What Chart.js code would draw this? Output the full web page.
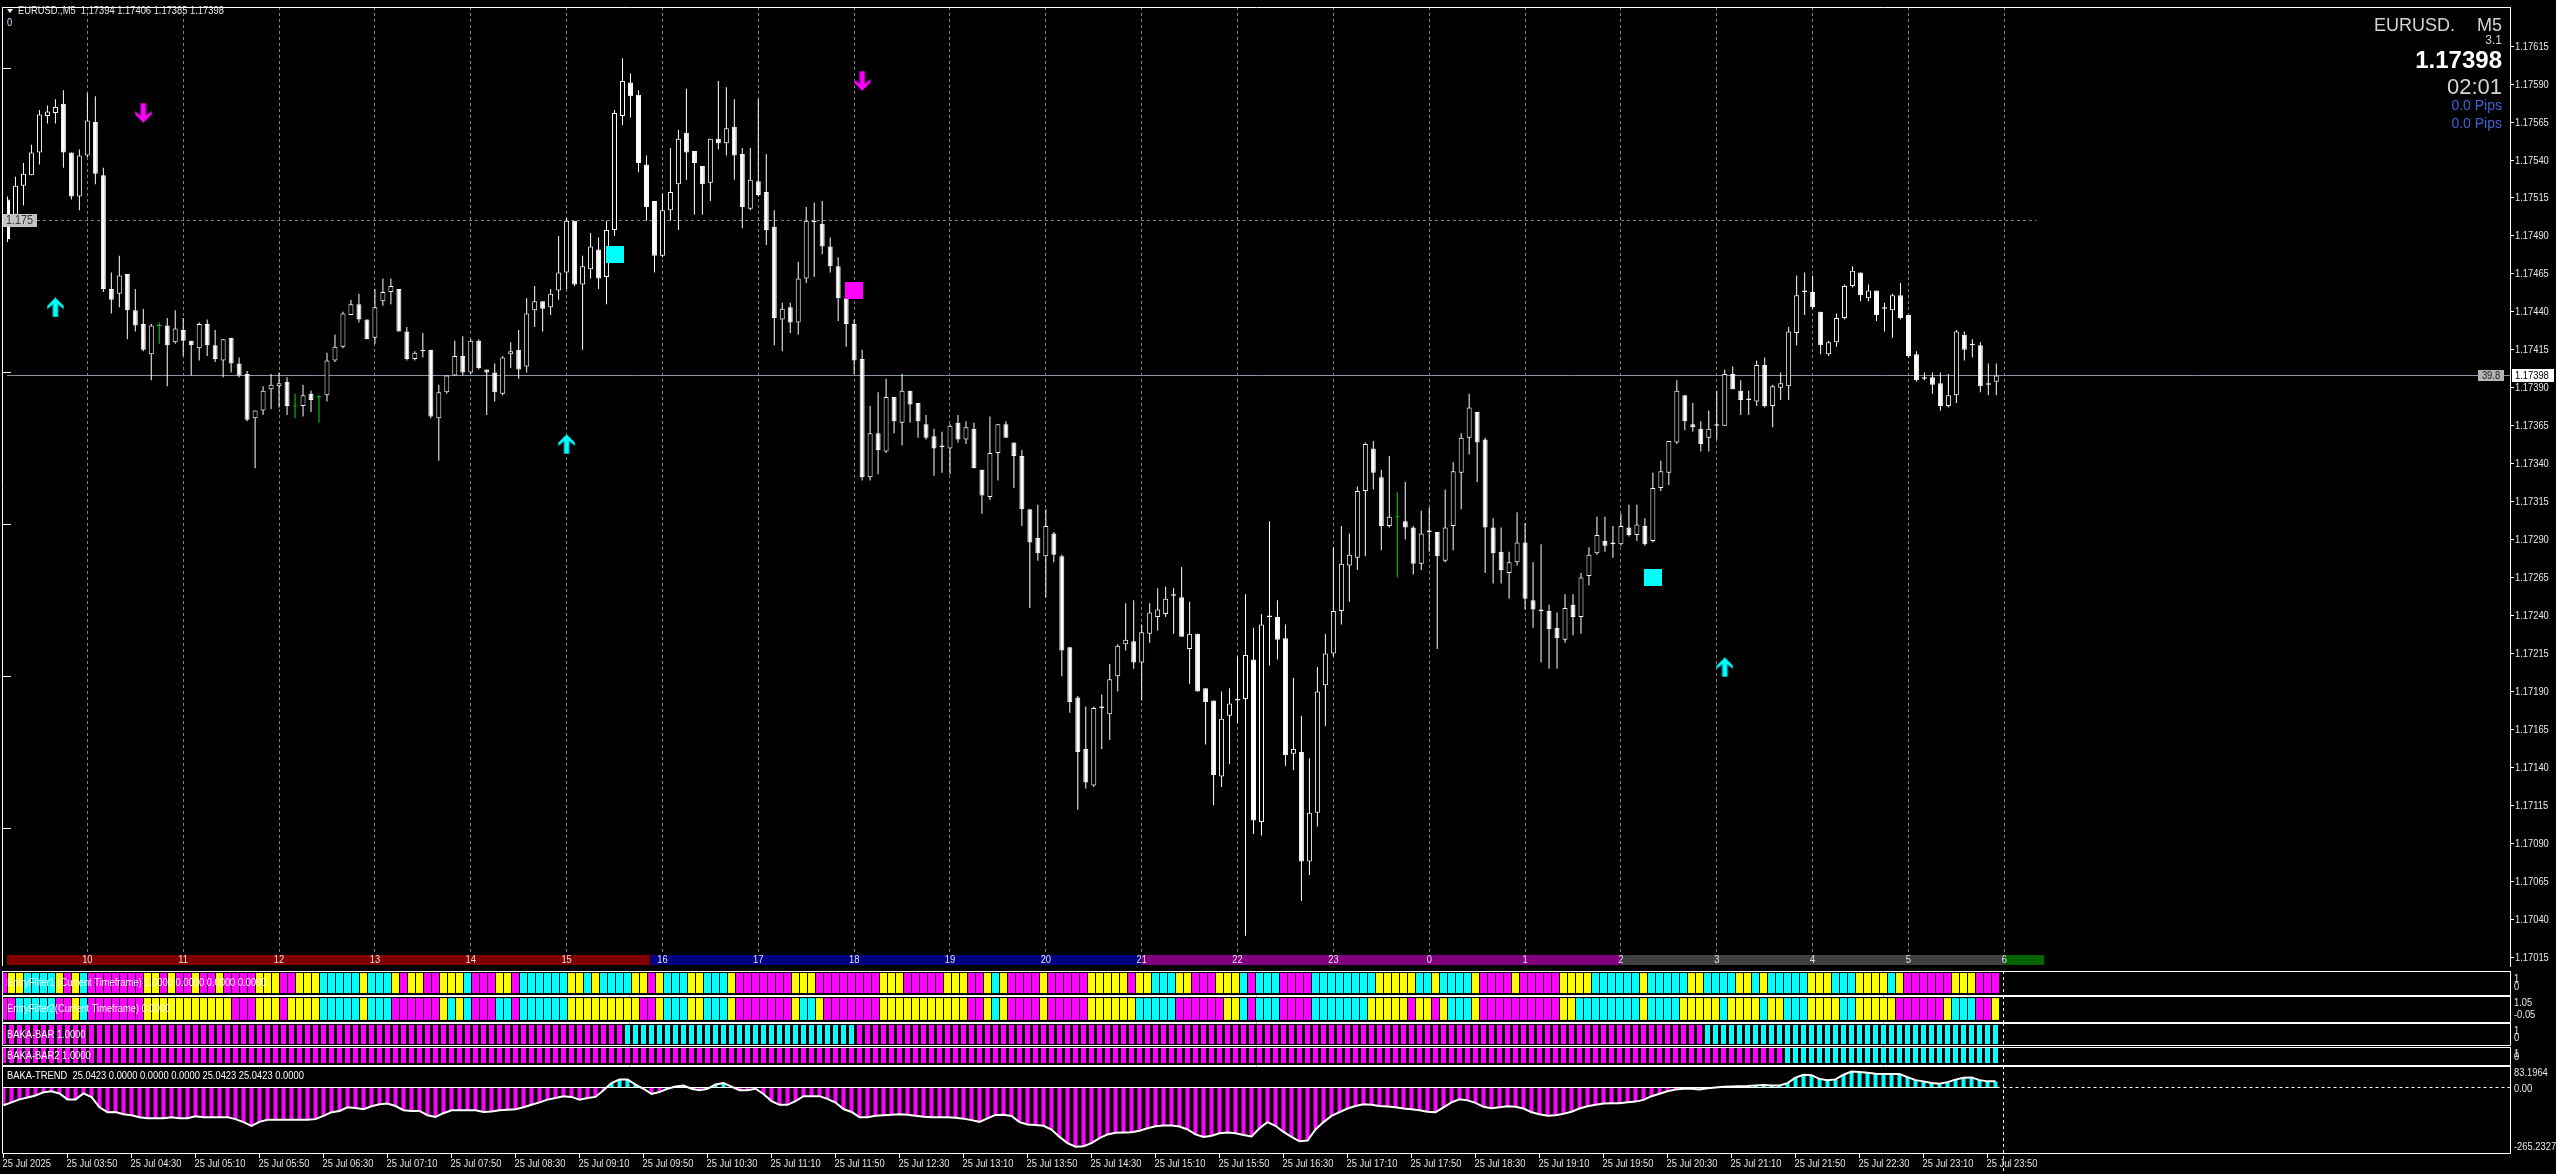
<!DOCTYPE html>
<html>
<head>
<meta charset="utf-8">
<title>EURUSD.,M5</title>
<script src="https://cdn.jsdelivr.net/npm/chart.js@4.4.1/dist/chart.umd.min.js"></script>
<style>
  html, body { margin: 0; padding: 0; background: #000; overflow: hidden; }
  #wrap { position: relative; width: 2556px; height: 1174px; background: #000; }
  #wrap canvas { position: absolute; left: 0; }
</style>
</head>
<body>
<div id="wrap"></div>
<script>
// ===== DATA =====
const SYMBOL = 'EURUSD.';
const PERIOD = 'M5';
const BASE = 1.17; // candle values below are points above 1.17000

const opens = [514,504,523,530,545,569,571,577,545,516,543,565,530,455,452,465,441,432,412,431,
  431,420,428,421,416,432,418,408,423,406,399,370,375,389,391,394,378,378,386,384,
  385,408,417,438,445,435,423,447,453,455,427,409,414,415,370,387,398,411,400,421,
  402,400,386,412,415,404,441,447,443,454,466,500,458,468,481,463,494,569,591,583,
  537,513,477,507,524,558,546,536,525,554,551,562,544,508,526,519,496,435,443,433,
  462,499,498,483,470,449,432,409,331,360,348,384,367,388,380,366,358,352,350,367,
  356,363,336,318,347,366,354,345,310,291,279,294,279,219,186,152,128,179,175,200,
  221,223,209,228,239,241,254,252,218,228,192,184,134,174,184,185,211,104,239,239,
  225,149,150,78,110,194,215,243,273,278,322,350,331,299,305,302,298,274,295,295,
  276,299,334,357,374,356,298,282,268,275,288,250,243,243,232,224,247,239,266,281,
  289,287,287,298,293,299,289,324,334,354,385,366,363,357,365,365,399,388,382,381,
  405,378,390,391,426,453,453,440,412,420,436,457,466,449,454,443,441,451,438,412,
  396,397,393,378,385,425,419,418,392,394];
const highs = [516,529,538,550,573,576,580,586,545,547,584,582,535,466,477,465,455,442,432,433,
  436,441,436,421,433,435,428,422,423,410,401,375,391,399,400,397,386,392,388,385,
  413,425,440,448,452,435,455,462,462,455,430,414,426,415,392,398,421,424,422,422,
  402,406,411,420,428,449,457,447,455,490,502,500,477,492,489,500,573,607,597,586,
  543,513,518,548,560,587,546,536,554,592,588,580,548,548,580,544,507,446,446,473,
  509,512,513,489,476,449,435,415,378,387,396,384,399,388,380,372,363,361,366,372,
  368,367,336,371,366,368,354,349,310,313,310,295,280,219,187,180,180,188,208,221,
  248,250,234,248,258,259,258,272,249,228,192,184,190,192,213,254,232,241,302,250,
  234,199,174,146,206,228,285,299,294,325,354,355,336,345,321,328,299,309,311,295,
  323,341,360,386,374,357,304,298,282,308,301,275,287,247,242,254,254,268,285,305,
  305,299,307,313,313,304,334,342,355,395,385,380,368,375,388,402,404,395,388,408,
  410,392,400,430,464,466,464,440,421,439,458,470,466,458,454,446,452,459,438,414,
  400,400,400,399,428,427,422,420,406,406];
const lows = [486,498,510,530,537,564,564,535,514,507,542,524,453,439,443,422,427,414,395,419,
  391,419,411,398,408,411,407,397,400,397,368,337,372,376,377,372,370,371,374,367,
  381,407,416,438,433,422,419,444,445,427,408,408,410,370,342,386,398,398,399,402,
  372,381,385,403,396,400,430,427,438,448,455,457,415,462,455,445,490,563,568,532,
  500,466,476,500,494,527,504,504,513,547,543,527,495,507,516,484,418,414,426,425,
  459,463,478,466,434,417,399,329,329,333,347,360,352,367,357,356,332,334,333,354,
  353,337,307,316,329,357,324,299,245,276,252,275,200,176,112,126,127,152,158,190,
  217,205,184,222,230,239,228,226,195,190,155,115,127,142,169,29,96,95,207,211,
  141,138,52,69,101,167,213,234,249,270,279,323,283,298,265,290,267,270,282,218,
  275,283,310,346,328,268,261,261,251,273,244,232,209,205,205,222,227,228,260,280,
  282,278,286,292,289,286,288,322,326,353,362,361,348,348,356,365,389,372,372,378,
  377,364,382,382,418,438,442,412,411,417,435,456,447,447,434,427,423,435,410,394,
  395,386,375,377,380,408,410,387,385,385];
const closes = [488,523,531,545,570,572,575,545,516,543,566,531,455,448,464,441,431,415,431,431,
  418,429,421,418,432,418,409,422,406,398,369,375,388,392,393,378,378,385,382,384,
  408,417,439,445,435,422,443,453,457,427,409,413,415,371,387,398,411,400,421,403,
  400,387,410,414,402,439,447,442,452,466,500,458,470,483,462,494,571,592,582,538,
  509,477,507,519,554,545,538,524,554,551,561,543,509,527,517,494,436,442,433,462,
  500,500,483,470,449,432,408,331,360,349,384,368,388,379,368,357,350,351,365,356,
  364,337,319,347,366,357,345,310,288,281,299,280,217,183,150,130,179,180,198,220,
  224,209,229,242,244,251,253,226,228,190,183,135,172,182,185,214,105,234,240,224,
  148,152,78,110,190,215,243,274,280,322,353,334,299,305,305,298,274,294,296,279,
  298,335,357,377,354,298,281,270,275,288,251,244,244,231,225,245,239,265,280,293,
  286,288,299,293,300,287,324,335,355,388,368,364,353,363,366,399,389,382,383,405,
  378,391,393,427,451,454,443,418,420,436,457,467,451,454,438,442,451,436,411,395,
  397,392,378,385,427,415,418,391,393,398];

const priceTicks = [1.17015,1.17040,1.17065,1.17090,1.17115,1.17140,1.17165,1.17190,1.17215,1.17240,
  1.17265,1.17290,1.17315,1.17340,1.17365,1.17390,1.17415,1.17440,1.17465,1.17490,
  1.17515,1.17540,1.17565,1.17590,1.17615];
const leftTicks = [1.176, 1.175, 1.174, 1.173, 1.172, 1.171];
const levelPrice = 1.175;
const levelEndBar = 254;

const timeLabelBars = [0,8,16,24,32,40,48,56,64,72,80,88,96,104,112,120,128,136,144,152,160,168,176,184,192,200,208,216,224,232,240,248];
const timeLabels = ['25 Jul 2025','25 Jul 03:50','25 Jul 04:30','25 Jul 05:10','25 Jul 05:50','25 Jul 06:30','25 Jul 07:10','25 Jul 07:50',
  '25 Jul 08:30','25 Jul 09:10','25 Jul 09:50','25 Jul 10:30','25 Jul 11:10','25 Jul 11:50','25 Jul 12:30','25 Jul 13:10',
  '25 Jul 13:50','25 Jul 14:30','25 Jul 15:10','25 Jul 15:50','25 Jul 16:30','25 Jul 17:10','25 Jul 17:50','25 Jul 18:30',
  '25 Jul 19:10','25 Jul 19:50','25 Jul 20:30','25 Jul 21:10','25 Jul 21:50','25 Jul 22:30','25 Jul 23:10','25 Jul 23:50'];

const hourBars = [10,22,34,46,58,70,82,94,106,118,130,142,154,166,178,190,202,214,226,238,250];
const hourLabels = ['10','11','12','13','14','15','16','17','18','19','20','21','22','23','0','1','2','3','4','5','6'];
const sessionStarts = [-1, 80.5, 142, 202, 250];
const sessionEnds = [80.5, 142, 202, 250, 255];
const sessionColors = ['#800000', '#000080', '#800080', '#404040', '#006400'];

const upArrowBars = [6, 70, 215];
const upArrowPts = [443, 353, 206];
const downArrowBars = [17, 107];
const downArrowPts = [571, 592];
const cyanBoxBars = [76, 206];
const cyanBoxPts = [478, 265];
const magentaBoxBars = [106];
const magentaBoxPts = [454];

// indicator colours, run-length: m = magenta, c = cyan, y = yellow
const ef1Runs = 'm1 y2 c4 y1 m1 y1 c1 m7 y2 m1 y1 m2 y1 m2 y1 m4 y3 m2 y3 c5 y1 c3 y1 m1 y2 m2 y3 c1 m3 y2 m1 c6 y2 c1 y1 c4 y2 m1 y1 c3 y2 c3 y1 m7 y3 m8 y3 m5 y3 m2 y1 c1 y1 m4 y1 m5 y5 m1 y2 c3 y2 m3 y3 c1 m1 c3 m4 c8 y5 c2 y1 c4 y1 m4 y1 m5 y4 c6 y1 c5 y2 c4 y2 c1 y1 c5 y3 c3 y4 c1 y1 m6 y3 m3';
const ef2Runs = 'm2 c5 m2 y1 c1 m7 y11 m3 y3 m1 y4 c5 y1 c3 m6 y1 c1 y1 c1 m3 c2 m1 c6 y9 m2 y1 c3 y2 c3 y1 m7 y1 c2 y1 m7 y11 m2 y1 c1 y1 m4 y1 m5 y6 c5 m6 y2 c1 m1 c3 m4 c7 y5 m1 y2 m1 y1 c3 y1 m10 y2 c8 y1 c4 y5 c1 y4 c1 y2 c3 y4 c2 y5 m6 y1 c3 m2 y1';
const bakaBarRuns = 'm78 c29 m106 c37';
const bakaBar2Runs = 'm223 c27';

const trendValues = [-72,-60,-48,-40,-32,-19,-15,-24,-48,-48,-24,-39,-80,-100,-99,-108,-112,-120,-124,-124,
  -124,-120,-124,-124,-116,-120,-120,-120,-120,-128,-140,-155,-139,-131,-131,-131,-131,-131,-131,-128,
  -115,-100,-95,-80,-83,-88,-76,-68,-65,-75,-92,-95,-95,-112,-119,-104,-92,-92,-92,-92,
  -99,-97,-92,-90,-88,-80,-70,-60,-49,-42,-35,-38,-49,-42,-38,-11,18,33,33,12,
  -5,-26,-18,-5,4,8,-5,-11,-5,12,18,4,-11,-11,-5,-26,-55,-70,-70,-55,
  -35,-35,-35,-46,-61,-87,-99,-120,-120,-114,-112,-110,-108,-110,-114,-118,-120,-120,-120,-122,
  -126,-132,-139,-125,-111,-110,-115,-140,-150,-152,-155,-170,-200,-225,-240,-238,-225,-205,-190,-183,
  -182,-181,-175,-165,-157,-154,-154,-158,-170,-190,-200,-195,-185,-182,-185,-192,-198,-165,-140,-155,
  -180,-200,-218,-215,-170,-140,-115,-100,-85,-75,-68,-70,-75,-77,-80,-85,-88,-92,-98,-100,
  -80,-60,-48,-52,-62,-78,-84,-80,-76,-78,-85,-100,-108,-114,-112,-106,-98,-85,-76,-70,
  -65,-64,-64,-60,-57,-50,-35,-25,-15,-8,-5,-5,-8,-3,0,3,4,5,6,8,
  10,8,8,18,40,52,50,35,30,33,52,65,63,60,56,55,55,55,42,30,
  25,18,15,22,32,40,41,30,25,25];
const trendMax = 83.1964;
const trendMin = -265.2327;

const ef1Text = 'EntryFilter1 (Current Timeframe) 1.0000 0.0000 0.0000 0.0000';
const ef2Text = 'EntryFilter2(Current Timeframe) 0.0000';
const bbText = 'BAKA-BAR 1.0000';
const bb2Text = 'BAKA-BAR2 1.0000';
const trendText = 'BAKA-TREND  25.0423 0.0000 0.0000 0.0000 25.0423 25.0423 0.0000';

// ===== HELPERS =====
const N = closes.length;
const bars = closes.map((_, i) => i);
const P = v => BASE + v / 100000;
const fmt5 = v => P(v).toFixed(5);
const PALETTE = { m: '#ff00ff', c: '#00ffff', y: '#ffff00' };
const FONT = '"Liberation Sans", Arial, sans-serif';

function expandRuns(s) {
  const out = [];
  s.trim().split(/\s+/).forEach(t => { for (let k = 0; k < +t.slice(1); k++) out.push(t[0]); });
  return out;
}

function text(ctx, s, x, y, o = {}) {
  ctx.save();
  ctx.font = o.font || ('11px ' + FONT);
  ctx.fillStyle = o.color || '#ffffff';
  ctx.textBaseline = 'middle';
  ctx.textAlign = o.align || 'left';
  ctx.translate(x, y);
  ctx.scale(o.sx || 1, 1);
  ctx.fillText(s, 0, 0);
  ctx.restore();
}

function arrowImg(fill, edge, down) {
  const c = document.createElement('canvas');
  c.width = 17; c.height = 20;
  const g = c.getContext('2d');
  if (down) { g.translate(0, 20); g.scale(1, -1); }
  g.beginPath();
  g.moveTo(8.5, 0.5); g.lineTo(16.5, 8.5); g.lineTo(16.5, 11.5); g.lineTo(11, 7);
  g.lineTo(11, 19.5); g.lineTo(6, 19.5); g.lineTo(6, 7); g.lineTo(0.5, 11.5); g.lineTo(0.5, 8.5);
  g.closePath();
  g.fillStyle = fill; g.fill();
  g.strokeStyle = edge; g.lineWidth = 1; g.stroke();
  return c;
}
function boxImg(fill) {
  const c = document.createElement('canvas');
  c.width = 18; c.height = 17;
  const g = c.getContext('2d');
  g.fillStyle = fill; g.fillRect(0, 0, 18, 17);
  return c;
}

const X_MIN = -0.0625;
const X_MAX = X_MIN + 2507 / 8;
const Y_MIN = 1.1700978;
const Y_MAX = 1.1764081;

function baseOptions(pad, yMin, yMax) {
  return {
    responsive: false, animation: false, events: [], devicePixelRatio: 1,
    layout: { padding: { left: 3, right: 46, top: pad[0], bottom: pad[1] } },
    plugins: { legend: { display: false }, tooltip: { enabled: false } },
    scales: {
      x: { type: 'linear', display: false, min: X_MIN, max: X_MAX, offset: false },
      y: { type: 'linear', display: false, min: yMin, max: yMax }
    }
  };
}

function makeCanvas(top, height) {
  const c = document.createElement('canvas');
  c.width = 2556; c.height = height;
  c.style.top = top + 'px';
  document.getElementById('wrap').appendChild(c);
  return c;
}

// ===== MAIN PRICE PANEL =====
const BAND_H = 10;
const mainDeco = {
  id: 'mainDeco',
  beforeDatasetsDraw(chart) {
    const { ctx, chartArea: a, scales: { x, y } } = chart;
    ctx.save();
    ctx.lineWidth = 1;
    ctx.strokeStyle = '#808080';
    ctx.setLineDash([3, 3]);
    hourBars.forEach(b => {
      const xx = Math.floor(x.getPixelForValue(b)) + 0.5;
      ctx.beginPath(); ctx.moveTo(xx, a.top); ctx.lineTo(xx, a.bottom - BAND_H); ctx.stroke();
    });
    const ly = Math.floor(y.getPixelForValue(levelPrice)) + 0.5;
    ctx.beginPath(); ctx.moveTo(a.left, ly); ctx.lineTo(x.getPixelForValue(levelEndBar), ly); ctx.stroke();
    ctx.setLineDash([]);
    const by = Math.floor(y.getPixelForValue(P(closes[N - 1]))) + 0.5;
    ctx.strokeStyle = '#8795a6';
    ctx.beginPath(); ctx.moveTo(a.left, by); ctx.lineTo(a.right, by); ctx.stroke();
    ctx.restore();
  },
  afterDatasetsDraw(chart) {
    const { ctx, chartArea: a, scales: { x, y } } = chart;
    ctx.save();
    // session band with hour numbers
    sessionColors.forEach((col, k) => {
      const x0 = Math.max(a.left, x.getPixelForValue(sessionStarts[k]));
      const x1 = x.getPixelForValue(sessionEnds[k]);
      ctx.fillStyle = col;
      ctx.fillRect(x0, a.bottom - BAND_H, x1 - x0, BAND_H);
    });
    hourBars.forEach((b, k) => text(ctx, hourLabels[k], x.getPixelForValue(b), a.bottom - BAND_H / 2,
      { align: 'center', color: '#e4e4e4', sx: 0.85 }));
    // frame
    ctx.strokeStyle = '#ffffff'; ctx.lineWidth = 1;
    ctx.beginPath();
    ctx.moveTo(2.5, a.top + 0.5); ctx.lineTo(a.right + 0.5, a.top + 0.5);
    ctx.moveTo(2.5, a.top); ctx.lineTo(2.5, a.bottom + 1);
    ctx.moveTo(a.right + 0.5, a.top); ctx.lineTo(a.right + 0.5, a.bottom + 2);
    ctx.stroke();
    // left ticks
    leftTicks.forEach(v => {
      const yy = Math.floor(y.getPixelForValue(v)) + 0.5;
      ctx.beginPath(); ctx.moveTo(3, yy); ctx.lineTo(11, yy); ctx.stroke();
    });
    // right price scale
    priceTicks.forEach(v => {
      const yy = Math.floor(y.getPixelForValue(v)) + 0.5;
      ctx.beginPath(); ctx.moveTo(a.right, yy); ctx.lineTo(a.right + 4, yy); ctx.stroke();
      text(ctx, v.toFixed(5), a.right + 5, yy, { color: '#e8e8e8', sx: 0.85 });
    });
    // level label
    const ly = Math.floor(y.getPixelForValue(levelPrice));
    ctx.fillStyle = '#c4c4c4'; ctx.fillRect(3, ly - 6, 34, 13);
    text(ctx, levelPrice.toFixed(3), 6, ly + 0.5, { color: '#3a3a3a', font: '12px ' + FONT, sx: 0.9 });
    // bid label boxes
    const last = closes[N - 1];
    const by = Math.floor(y.getPixelForValue(P(last)));
    ctx.fillStyle = '#b4b4b4'; ctx.fillRect(a.right - 32, by - 5, 26, 11);
    text(ctx, '39.8', a.right - 19, by + 0.5, { color: '#202020', align: 'center', sx: 0.85 });
    ctx.fillStyle = '#ffffff'; ctx.fillRect(a.right + 2, by - 6, 42, 13);
    text(ctx, fmt5(last), a.right + 5, by + 0.5, { color: '#000000', sx: 0.85 });
    // header
    ctx.fillStyle = '#ffffff';
    ctx.beginPath(); ctx.moveTo(7, 9); ctx.lineTo(13, 9); ctx.lineTo(10, 13); ctx.closePath(); ctx.fill();
    const hdr = `${SYMBOL},${PERIOD}  ${fmt5(opens[N - 1])} ${fmt5(highs[N - 1])} ${fmt5(lows[N - 1])} ${fmt5(last)}`;
    text(ctx, hdr, 18, 11, { color: '#e6e6e6', sx: 0.85 });
    text(ctx, '0', 7, 23, { color: '#d8e2ff', sx: 0.85 });
    // top right info
    text(ctx, SYMBOL, 2455, 26, { align: 'right', color: '#d4d4d4', font: '18px ' + FONT });
    text(ctx, PERIOD, 2502, 26, { align: 'right', color: '#d4d4d4', font: '18px ' + FONT });
    text(ctx, '3.1', 2502, 41, { align: 'right', color: '#d4d4d4', font: '12px ' + FONT });
    text(ctx, fmt5(last), 2502, 61, { align: 'right', color: '#ffffff', font: 'bold 24px ' + FONT });
    text(ctx, '02:01', 2502, 88, { align: 'right', color: '#d4d4d4', font: '22px ' + FONT });
    text(ctx, '0.0 Pips', 2502, 106, { align: 'right', color: '#3f63d6', font: '14px ' + FONT });
    text(ctx, '0.0 Pips', 2502, 124, { align: 'right', color: '#3f63d6', font: '14px ' + FONT });
    ctx.restore();
  }
};

const markerData = [], markerStyles = [];
const imgUp = arrowImg('#00ffff', '#00a8a8', false);
const imgDown = arrowImg('#ff00ff', '#b000b0', true);
upArrowBars.forEach((b, k) => { markerData.push({ x: b, y: P(upArrowPts[k]) }); markerStyles.push(imgUp); });
downArrowBars.forEach((b, k) => { markerData.push({ x: b, y: P(downArrowPts[k]) }); markerStyles.push(imgDown); });
cyanBoxBars.forEach((b, k) => { markerData.push({ x: b, y: P(cyanBoxPts[k]) }); markerStyles.push(boxImg('#00ffff')); });
magentaBoxBars.forEach((b, k) => { markerData.push({ x: b, y: P(magentaBoxPts[k]) }); markerStyles.push(boxImg('#ff00ff')); });

const bodyLo = [], bodyHi = [], bodyFill = [], bodyLine = [], wickCol = [];
bars.forEach(i => {
  let lo = Math.min(opens[i], closes[i]), hi = Math.max(opens[i], closes[i]);
  if (hi - lo < 0.7) { const m = (lo + hi) / 2; lo = m - 0.35; hi = m + 0.35; }
  bodyLo.push(P(lo)); bodyHi.push(P(hi));
  const doji = opens[i] === closes[i];
  const bull = closes[i] > opens[i];
  bodyFill.push(doji ? '#00e000' : bull ? '#000000' : '#ffffff');
  bodyLine.push(doji ? '#00e000' : '#ffffff');
  wickCol.push(doji ? '#00e000' : '#ffffff');
});

new Chart(makeCanvas(0, 972), {
  type: 'bar',
  data: {
    datasets: [
      { type: 'scatter', order: 0, data: markerData, pointStyle: markerStyles, pointRadius: 6 },
      { order: 1, data: bars.map(i => ({ x: i, y: [bodyLo[i], bodyHi[i]] })),
        backgroundColor: bodyFill, borderColor: bodyLine, borderWidth: 1, borderSkipped: false,
        barThickness: 5, grouped: false, inflateAmount: 0 },
      { order: 2, data: bars.map(i => ({ x: i, y: [P(lows[i]), P(highs[i])] })),
        backgroundColor: wickCol, borderWidth: 0, barThickness: 1, grouped: false, inflateAmount: 0 }
    ]
  },
  options: baseOptions([2, 2], Y_MIN, Y_MAX),
  plugins: [mainDeco]
});

// ===== INDICATOR PANELS =====
function panelDeco(label, axisLabels, trend) {
  return {
    id: 'panelDeco',
    afterDatasetsDraw(chart) {
      const { ctx, chartArea: a, scales: { x, y } } = chart;
      const H = chart.height;
      const yb = trend ? a.bottom + 0.5 : H - 0.5;
      ctx.save();
      ctx.strokeStyle = '#ffffff'; ctx.lineWidth = 1;
      if (trend) {
        const zy = Math.floor(y.getPixelForValue(0)) + 0.5;
        ctx.beginPath(); ctx.moveTo(a.left, zy); ctx.lineTo(x.getPixelForValue(N - 0.5), zy); ctx.stroke();
        ctx.setLineDash([3, 3]);
        ctx.beginPath(); ctx.moveTo(x.getPixelForValue(N), zy); ctx.lineTo(a.right, zy); ctx.stroke();
        ctx.setLineDash([]);
      }
      ctx.beginPath();
      ctx.moveTo(2.5, 0.5); ctx.lineTo(a.right + 0.5, 0.5);
      ctx.moveTo(2.5, yb); ctx.lineTo(a.right + 0.5, yb);
      ctx.moveTo(2.5, 0); ctx.lineTo(2.5, yb);
      ctx.moveTo(a.right + 0.5, 0); ctx.lineTo(a.right + 0.5, yb);
      ctx.stroke();
      ctx.setLineDash([3, 3]);
      const sx = Math.floor(x.getPixelForValue(N)) + 0.5;
      ctx.beginPath(); ctx.moveTo(sx, 0); ctx.lineTo(sx, H); ctx.stroke();
      ctx.setLineDash([]);
      text(ctx, label, 7, trend ? a.top + 9 : (a.top + a.bottom) / 2, { color: '#ffffff', sx: 0.85 });
      axisLabels.forEach((l, k) => {
        let yy;
        if (k === 0) yy = a.top + 6;
        else if (k === axisLabels.length - 1) yy = a.bottom - 6;
        else yy = y.getPixelForValue(l.v) + 1.5;
        text(ctx, l.t, a.right + 4, yy, { color: '#e8e8e8', sx: 0.85 });
      });
      if (trend) {
        timeLabelBars.forEach((b, k) => {
          const tx = Math.floor(x.getPixelForValue(b)) + 0.5;
          ctx.beginPath(); ctx.moveTo(tx, a.bottom); ctx.lineTo(tx, a.bottom + 5); ctx.stroke();
          text(ctx, timeLabels[k], tx - 1, a.bottom + 10.5, { color: '#e6e6e6', sx: 0.85 });
        });
      }
      ctx.restore();
    }
  };
}

function stripChart(top, height, pad, runs, thickness, yMin, yMax, label, axisLabels) {
  const cols = expandRuns(runs);
  return new Chart(makeCanvas(top, height), {
    type: 'bar',
    data: { datasets: [{
      data: bars.map(i => ({ x: i, y: [0, 1] })),
      backgroundColor: cols.map(k => PALETTE[k]),
      borderWidth: 0, barThickness: thickness, grouped: false, inflateAmount: 0
    }] },
    options: baseOptions(pad, yMin, yMax),
    plugins: [panelDeco(label, axisLabels, false)]
  });
}

stripChart(971, 25, [2, 3], ef1Runs, 7, 0, 1, ef1Text, [{ t: '1' }, { t: '0' }]);
stripChart(996, 27, [1, 2], ef2Runs, 7, -0.05, 1.05, ef2Text, [{ t: '1.05' }, { t: '-0.05' }]);
stripChart(1023, 23, [2, 2], bakaBarRuns, 5, 0, 1, bbText, [{ t: '1' }, { t: '0' }]);
stripChart(1047, 19, [1, 3], bakaBar2Runs, 5, 0, 1, bb2Text, [{ t: '1' }, { t: '0' }]);

new Chart(makeCanvas(1066, 108), {
  type: 'bar',
  data: { datasets: [
    { type: 'line', order: 0, data: bars.map(i => ({ x: i, y: trendValues[i] })),
      borderColor: '#ffffff', borderWidth: 2, pointRadius: 0, tension: 0, fill: false },
    { order: 1, data: bars.map(i => ({ x: i, y: [0, trendValues[i]] })),
      backgroundColor: trendValues.map(v => v >= 0 ? '#00ffff' : '#ff00ff'),
      borderWidth: 0, barThickness: 4, grouped: false, inflateAmount: 0 }
  ] },
  options: baseOptions([1, 21], trendMin, trendMax),
  plugins: [panelDeco(trendText, [
    { t: trendMax.toFixed(4), v: trendMax }, { t: '0.00', v: 0 }, { t: trendMin.toFixed(4), v: trendMin }
  ], true)]
});
</script>
</body>
</html>
